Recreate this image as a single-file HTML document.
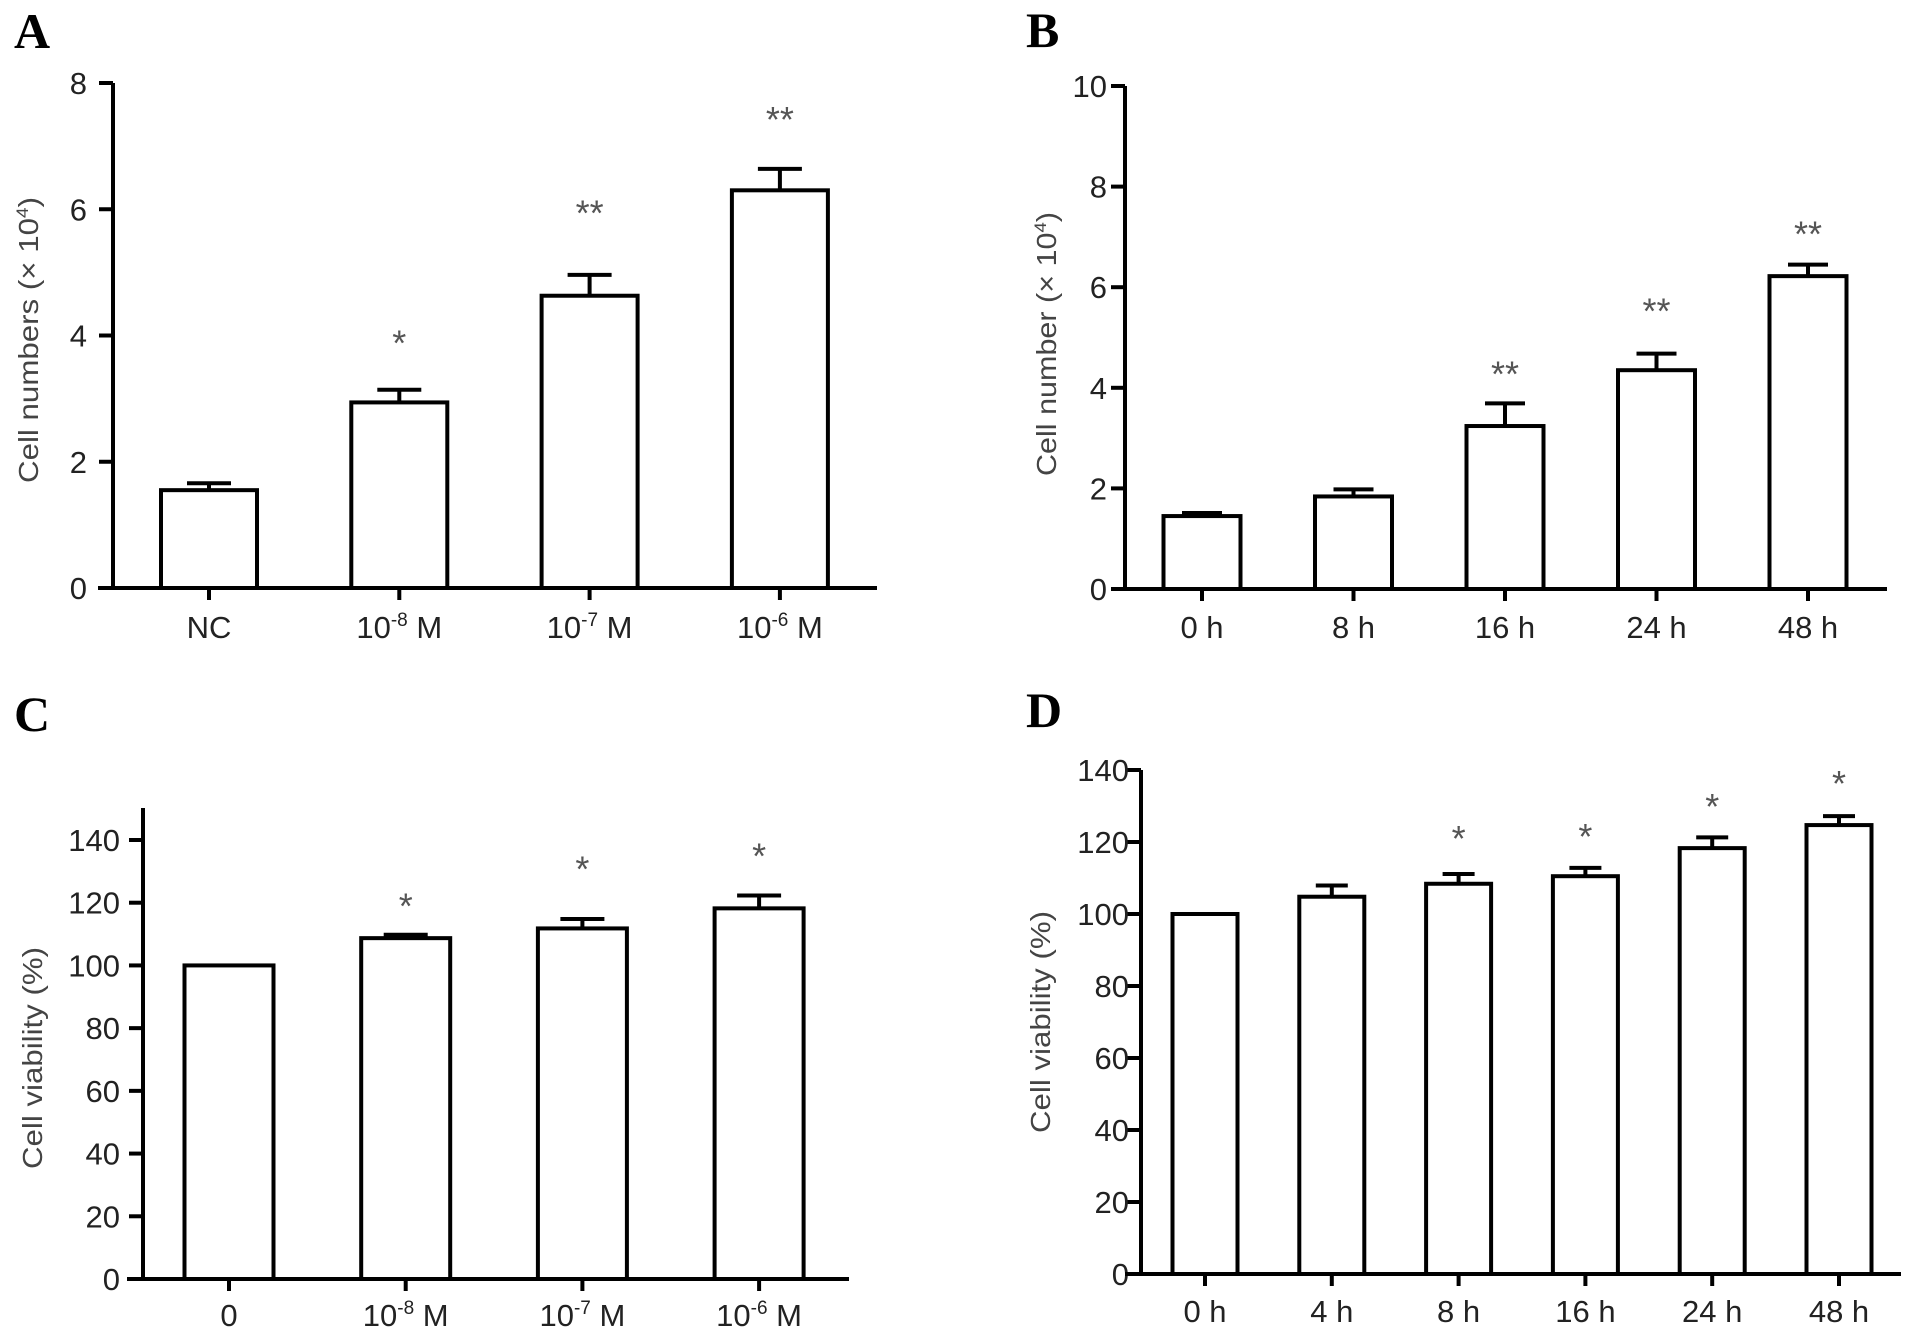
<!DOCTYPE html>
<html><head><meta charset="utf-8"><style>
html,body{margin:0;padding:0;background:#fff;}
svg{display:block;}
.tick{font-family:"Liberation Sans",sans-serif;font-size:31px;fill:#222;}
.ttl{font-family:"Liberation Sans",sans-serif;font-size:28px;fill:#444;}
.star{font-family:"Liberation Sans",sans-serif;font-size:36px;fill:#555;}
.lett{font-family:"Liberation Serif",serif;font-size:50px;font-weight:bold;fill:#000;}
</style></head><body>
<svg id="fig" width="1913" height="1338" viewBox="0 0 1913 1338" xmlns="http://www.w3.org/2000/svg"></svg>
<script>
// Panel A data
const catsA = [["NC",""],["10","-8"],["10","-7"],["10","-6"]];
const valsA = [1.55, 2.94, 4.63, 6.30];
const errA = [0.11, 0.20, 0.33, 0.34];
const sigA = ["", "*", "**", "**"];
const sigPosA = [0, 4.0, 6.06, 7.54];
const ticksA = [0, 2, 4, 6, 8];
// Panel B data
const catsB = [["0 h",""],["8 h",""],["16 h",""],["24 h",""],["48 h",""]];
const valsB = [1.45, 1.84, 3.24, 4.35, 6.22];
const errB = [0.06, 0.14, 0.45, 0.33, 0.23];
const sigB = ["", "", "**", "**", "**"];
const sigPosB = [0, 0, 4.42, 5.68, 7.21];
const ticksB = [0, 2, 4, 6, 8, 10];
// Panel C data
const catsC = [["0",""],["10","-8"],["10","-7"],["10","-6"]];
const valsC = [100, 108.7, 111.8, 118.2];
const errC = [0, 1.1, 3.0, 4.1];
const sigC = ["", "*", "*", "*"];
const sigPosC = [0, 121.3, 133.2, 137.3];
const ticksC = [0, 20, 40, 60, 80, 100, 120, 140];
// Panel D data
const catsD = [["0 h",""],["4 h",""],["8 h",""],["16 h",""],["24 h",""],["48 h",""]];
const valsD = [100, 104.8, 108.4, 110.5, 118.3, 124.7];
const errD = [0, 3.1, 2.7, 2.3, 3.0, 2.5];
const sigD = ["", "", "*", "*", "*", "*"];
const sigPosD = [0, 0, 123, 123.6, 131.9, 138.4];
const ticksD = [0, 20, 40, 60, 80, 100, 120, 140];

const NS = "http://www.w3.org/2000/svg";
const fig = document.getElementById("fig");
function mk(tag, attrs, parent){
  const e = document.createElementNS(NS, tag);
  for (const k in attrs) e.setAttribute(k, attrs[k]);
  (parent||fig).appendChild(e);
  return e;
}

function panel(cfg, cats, vals, errs, sigs, sigPos, ticks){
  const g = mk("g", {});
  
  
  const yS = v => cfg.y0 - (v/ticks[ticks.length-1])*(cfg.y0-cfg.yTop);
  const xS = i => cfg.x0c + i*cfg.step;
  const L = mk("text", {x:cfg.lx, y:cfg.ly, class:"lett"}, g);
  L.textContent = cfg.id;
  
  
  for (let i=0;i<vals.length;i++){
    const cx = xS(i), w = cfg.bw;
    const top = yS(vals[i]);
    if (errs[i] > 0){
      const et = yS(vals[i]+errs[i]);
      const el = mk("path", {d:`M${cx},${top} V${et} M${cx-cfg.cap/2},${et} H${cx+cfg.cap/2}`, stroke:"#000","stroke-width":4, fill:"none"}, g);
      
      
    }
    const r = mk("rect", {x:cx-w/2, y:top, width:w, height:cfg.y0-top, fill:"#fff", stroke:"#000","stroke-width":4}, g);
    
    
    if (sigs[i]){
      const s = mk("text", {x:cx, y:yS(sigPos[i])+20, class:"star","text-anchor":"middle"}, g);
      s.textContent = sigs[i];
      
      
    }
    const t = mk("line", {x1:cx, x2:cx, y1:cfg.y0, y2:cfg.y0+12, stroke:"#000","stroke-width":4}, g);
    
    
    const lbl = mk("text", {x:cx, y:cfg.lblY, class:"tick","text-anchor":"middle"}, g);
    
    
    if (cats[i][1]){
      const a = mk("tspan", {}, lbl); a.textContent = cats[i][0];
      const b = mk("tspan", {dy:-12, "font-size":19}, lbl); b.textContent = cats[i][1];
      const c = mk("tspan", {dy:12}, lbl); c.textContent = " M";
    } else lbl.textContent = cats[i][0];
  }
  for (const tv of ticks){
    const y = yS(tv);
    const t = mk("line", {x1:cfg.ax-14, x2:cfg.ax, y1:y, y2:y, stroke:"#000","stroke-width":4}, g);
    
    
    const l = mk("text", {x:cfg.ax-cfg.gap, y:y+11, class:"tick","text-anchor":"end"}, g);
    l.textContent = tv;
    
    
  }
  const ya = mk("line", {x1:cfg.ax, x2:cfg.ax, y1:cfg.axTop, y2:cfg.y0+2, stroke:"#000","stroke-width":4}, g);
  
  
  const xa = mk("line", {x1:cfg.xl, x2:cfg.xr, y1:cfg.y0, y2:cfg.y0, stroke:"#000","stroke-width":4}, g);
  
  
  const tt = mk("text", {x:0, y:0, class:"ttl","text-anchor":"middle", transform:`translate(${cfg.tx},${cfg.ty}) rotate(-90)`, textLength:cfg.tl, lengthAdjust:"spacingAndGlyphs"}, g);
  
  
  const p1 = mk("tspan", {}, tt); p1.textContent = cfg.title;
  if (cfg.sup){
    const p2 = mk("tspan", {dy:-10,"font-size":17}, tt); p2.textContent = "4";
    const p3 = mk("tspan", {dy:10}, tt); p3.textContent = ")";
  }
}

panel({id:"A", lx:14, ly:48, ax:113, axTop:83, y0:588, yTop:83, x0c:209, step:190.3, bw:96, cap:44, gap:26,
  xl:98, xr:877, lblY:638, tx:38, ty:340, tl:286, title:"Cell numbers (× 10", sup:true},
  catsA, valsA, errA, sigA, sigPosA, ticksA);
panel({id:"B", lx:1026, ly:47, ax:1125, axTop:86, y0:589, yTop:86, x0c:1202, step:151.5, bw:77, cap:40, gap:18,
  xl:1112, xr:1887, lblY:638, tx:1056, ty:344, tl:264, title:"Cell number (× 10", sup:true},
  catsB, valsB, errB, sigB, sigPosB, ticksB);
panel({id:"C", lx:14, ly:731, ax:143, axTop:808, y0:1279, yTop:840, x0c:229, step:176.7, bw:89, cap:44, gap:23,
  xl:127, xr:849, lblY:1326, tx:42, ty:1058, tl:222, title:"Cell viability (%)", sup:false},
  catsC, valsC, errC, sigC, sigPosC, ticksC);
panel({id:"D", lx:1026, ly:727, ax:1141, axTop:770, y0:1274, yTop:770, x0c:1205, step:126.8, bw:65, cap:32, gap:12,
  xl:1125, xr:1901, lblY:1322, tx:1050, ty:1022, tl:222, title:"Cell viability (%)", sup:false},
  catsD, valsD, errD, sigD, sigPosD, ticksD);
</script>
</body></html>
